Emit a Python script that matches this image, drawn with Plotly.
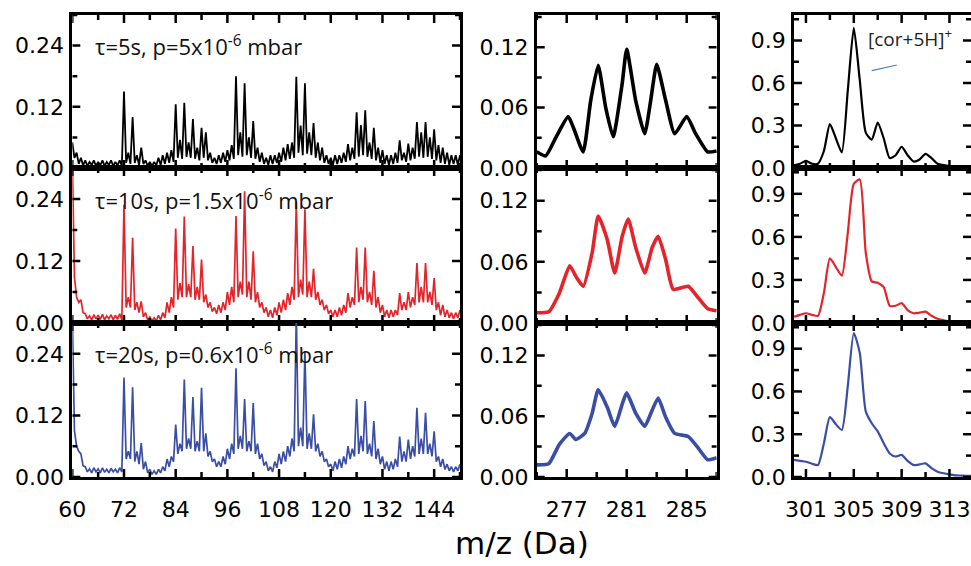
import plotly.graph_objects as go

# ---------------- data ----------------
# left column: integer masses 60..150, peak intensity at each integer and valley intensity at m+0.5
low_mz = list(range(60, 151))

black_peaks = [0.05,0.03,0.02,0.015,0.012,0.015,0.012,0.015,0.012,0.015,0.012,0.015,
               0.15,0.03,0.10,0.025,0.04,0.015,0.012,0.012,0.02,0.025,0.03,0.035,
               0.125,0.055,0.128,0.05,0.096,0.04,0.079,0.07,0.03,0.02,0.025,0.03,
               0.035,0.045,0.18,0.07,0.166,0.06,0.092,0.04,0.03,0.02,0.025,0.025,
               0.03,0.04,0.047,0.05,0.179,0.083,0.166,0.07,0.088,0.05,0.04,0.025,
               0.02,0.025,0.025,0.03,0.047,0.04,0.109,0.084,0.113,0.05,0.079,0.04,
               0.035,0.025,0.025,0.03,0.054,0.03,0.048,0.04,0.09,0.07,0.09,0.06,
               0.076,0.045,0.04,0.03,0.025,0.025,0.025]
black_valleys = [0.02,0.008,0.005,0.004,0.006,0.004,0.005,0.004,0.006,0.004,0.005,0.004,
                 0.01,0.008,0.01,0.006,0.008,0.004,0.004,0.005,0.006,0.008,0.01,0.012,
                 0.02,0.018,0.022,0.02,0.018,0.015,0.02,0.015,0.01,0.008,0.01,0.012,
                 0.015,0.018,0.025,0.022,0.025,0.02,0.018,0.012,0.008,0.006,0.008,0.01,
                 0.012,0.015,0.018,0.02,0.03,0.025,0.028,0.025,0.02,0.015,0.01,0.008,
                 0.006,0.008,0.01,0.012,0.015,0.018,0.022,0.025,0.022,0.018,0.015,0.01,
                 0.008,0.006,0.008,0.01,0.015,0.012,0.015,0.018,0.022,0.02,0.022,0.018,
                 0.015,0.01,0.008,0.006,0.008,0.006]

red_peaks = [0.32,0.05,0.045,0.018,0.014,0.016,0.015,0.017,0.014,0.016,0.015,0.018,
             0.229,0.05,0.165,0.04,0.042,0.02,0.012,0.01,0.015,0.02,0.04,0.05,
             0.183,0.077,0.206,0.075,0.149,0.07,0.123,0.055,0.04,0.03,0.035,0.04,
             0.06,0.07,0.207,0.08,0.255,0.08,0.139,0.06,0.04,0.03,0.025,0.03,
             0.04,0.045,0.058,0.07,0.235,0.084,0.22,0.08,0.105,0.06,0.045,0.035,
             0.025,0.025,0.03,0.035,0.058,0.05,0.146,0.07,0.146,0.06,0.101,0.05,
             0.035,0.025,0.025,0.025,0.058,0.04,0.06,0.05,0.116,0.07,0.116,0.06,
             0.087,0.04,0.035,0.025,0.02,0.02,0.025]
red_valleys = [0.088,0.04,0.02,0.008,0.006,0.008,0.007,0.006,0.008,0.006,0.007,0.006,
               0.03,0.03,0.025,0.02,0.012,0.006,0.004,0.004,0.006,0.01,0.02,0.03,
               0.045,0.05,0.05,0.05,0.045,0.045,0.04,0.03,0.022,0.018,0.02,0.025,
               0.035,0.04,0.05,0.055,0.05,0.045,0.04,0.03,0.02,0.012,0.01,0.015,
               0.02,0.025,0.035,0.045,0.05,0.055,0.05,0.05,0.045,0.035,0.025,0.018,
               0.012,0.012,0.015,0.02,0.03,0.035,0.04,0.045,0.04,0.035,0.03,0.02,
               0.012,0.01,0.012,0.015,0.025,0.025,0.03,0.035,0.04,0.04,0.04,0.035,
               0.025,0.015,0.012,0.01,0.008,0.01]

blue_peaks = [0.32,0.06,0.045,0.02,0.016,0.018,0.016,0.018,0.015,0.017,0.015,0.018,
              0.194,0.05,0.175,0.05,0.066,0.03,0.015,0.012,0.015,0.02,0.035,0.04,
              0.102,0.065,0.19,0.075,0.156,0.07,0.174,0.085,0.05,0.035,0.03,0.04,
              0.055,0.065,0.212,0.08,0.152,0.07,0.144,0.065,0.045,0.03,0.02,0.03,
              0.045,0.05,0.06,0.075,0.32,0.096,0.245,0.085,0.122,0.065,0.05,0.035,
              0.025,0.03,0.035,0.04,0.06,0.055,0.152,0.08,0.148,0.065,0.109,0.055,
              0.04,0.03,0.03,0.035,0.079,0.05,0.073,0.06,0.135,0.075,0.125,0.065,
              0.089,0.04,0.035,0.025,0.02,0.02,0.025]
blue_valleys = [0.09,0.05,0.022,0.01,0.008,0.01,0.008,0.009,0.008,0.01,0.008,0.01,
                0.035,0.035,0.03,0.025,0.015,0.008,0.005,0.005,0.008,0.012,0.02,0.03,
                0.045,0.05,0.055,0.055,0.05,0.05,0.05,0.04,0.03,0.02,0.02,0.025,
                0.035,0.045,0.055,0.055,0.05,0.05,0.045,0.035,0.022,0.012,0.01,0.018,
                0.025,0.03,0.04,0.05,0.06,0.06,0.055,0.055,0.05,0.04,0.03,0.02,
                0.012,0.015,0.018,0.025,0.035,0.04,0.045,0.05,0.045,0.04,0.035,0.025,
                0.015,0.012,0.015,0.02,0.03,0.03,0.035,0.04,0.045,0.045,0.045,0.04,
                0.03,0.02,0.015,0.012,0.01,0.012]

# middle column (m/z 275-287)
mid_black_mz = [275.0,275.6,276.3,277.1,277.5,278.1,278.6,279.1,279.6,280.1,280.7,281.0,281.6,
                282.2,282.6,283.0,283.6,284.2,285.0,285.6,286.4,287.0]
mid_black = [0.016,0.012,0.031,0.051,0.038,0.016,0.067,0.102,0.060,0.031,0.084,0.118,0.067,
             0.034,0.067,0.103,0.067,0.034,0.051,0.034,0.016,0.017]
mid_red_mz = [275.0,275.8,276.5,277.2,277.6,278.1,278.7,279.1,279.7,280.2,280.7,281.1,281.6,
              282.2,282.7,283.1,283.6,284.1,285.1,285.7,286.4,287.0]
mid_red = [0.010,0.011,0.029,0.056,0.046,0.036,0.069,0.105,0.082,0.049,0.085,0.102,0.074,
           0.049,0.074,0.085,0.062,0.033,0.036,0.026,0.014,0.012]
mid_blue_mz = [275.0,275.8,276.5,277.2,277.6,278.2,278.7,279.1,279.7,280.2,280.7,281.0,281.6,
               282.2,282.7,283.1,283.6,284.2,285.1,285.7,286.4,287.0]
mid_blue = [0.012,0.013,0.032,0.043,0.037,0.043,0.063,0.086,0.069,0.050,0.072,0.083,0.063,
            0.050,0.066,0.078,0.059,0.043,0.040,0.030,0.017,0.019]

# right column (m/z 300-315)
hi_mz = [300,300.5,301,301.5,302,302.5,303,303.5,304,304.5,305,305.5,306,306.5,307,307.5,
         308,308.5,309,309.5,310,310.5,311,311.5,312,312.5,313,313.5,314,314.5,315]
hi_black = [0.02,0.03,0.05,0.03,0.03,0.12,0.31,0.21,0.11,0.55,0.99,0.62,0.25,0.2,0.32,0.21,
            0.07,0.09,0.15,0.09,0.046,0.06,0.10,0.07,0.03,0.02,0.015,0.01,0.007,0.005,0.005]
hi_red = [0.044,0.057,0.068,0.057,0.05,0.21,0.45,0.39,0.33,0.63,0.97,1.0,0.49,0.29,0.28,0.25,
          0.12,0.12,0.138,0.09,0.068,0.072,0.079,0.05,0.03,0.02,0.01,0.008,0.006,0.005,0.005]
hi_blue = [0.12,0.113,0.107,0.093,0.084,0.237,0.42,0.37,0.33,0.64,1.01,0.87,0.46,0.377,0.32,0.237,
           0.165,0.144,0.155,0.113,0.084,0.088,0.096,0.062,0.037,0.026,0.019,0.012,0.01,0.008,0.008]

row_labels = ["τ=5s, p=5x10<sup>-6</sup> mbar",
              "τ=10s, p=1.5x10<sup>-6</sup> mbar",
              "τ=20s, p=0.6x10<sup>-6</sup> mbar"]
colors = ["#000000", "#e3242b", "#3a4ea5"]

low_series = [(black_peaks, black_valleys), (red_peaks, red_valleys), (blue_peaks, blue_valleys)]
mid_series = [(mid_black_mz, mid_black), (mid_red_mz, mid_red), (mid_blue_mz, mid_blue)]
hi_series = [hi_black, hi_red, hi_blue]

# ---------------- layout geometry ----------------
W, H = 971, 566
col_px = [(72.3, 460.0), (536.7, 716.7), (794.0, 971.0)]
row_px = [(15.0, 168.0), (168.0, 323.0), (323.0, 477.0)]
# per column: x range, major tick start, minor step; y range, minor step (major = 2 * minor), format
col_axes = [
    dict(xr=[60, 150], xt0=60, xmin=6, yr=[0, 0.30], ymin=0.06, yfmt=".2f"),
    dict(xr=[275, 287], xt0=277, xmin=2, yr=[0, 0.152], ymin=0.03, yfmt=".2f"),
    dict(xr=[300, 314.8], xt0=301, xmin=2, yr=[0, 1.08], ymin=0.15, yfmt=".1f"),
]

MAJ_LEN, MIN_LEN, TICK_W = 8, 5, 2.5

fig = go.Figure()
TICKFONT = dict(family="DejaVu Sans, Arial", size=22, color="black")

def axname(k, kind):
    return f"{kind}axis" if k == 1 else f"{kind}axis{k}"

shapes = []
for r in range(3):
    for c in range(3):
        k = r * 3 + c + 1
        xref = "x" if k == 1 else f"x{k}"
        yref = "y" if k == 1 else f"y{k}"
        col = colors[r]
        if c == 0:
            pk, vl = low_series[r]
            xs, ys = [], []
            for i, m in enumerate(low_mz):
                xs.append(m); ys.append(pk[i])
                if i < len(vl):
                    xs.append(m + 0.5); ys.append(vl[i])
            fig.add_trace(go.Scatter(x=xs, y=ys, mode="lines", xaxis=xref, yaxis=yref,
                                     line=dict(color=col, width=1.7 if r else 1.8),
                                     showlegend=False, hoverinfo="skip"))
        elif c == 1:
            mx, my = mid_series[r]
            fig.add_trace(go.Scatter(x=mx, y=my, mode="lines", xaxis=xref, yaxis=yref,
                                     line=dict(color=col, width=3.6, shape="spline", smoothing=0.5),
                                     showlegend=False, hoverinfo="skip"))
        else:
            fig.add_trace(go.Scatter(x=hi_mz, y=hi_series[r], mode="lines", xaxis=xref, yaxis=yref,
                                     line=dict(color=col, width=2.2, shape="spline", smoothing=0.6),
                                     showlegend=False, hoverinfo="skip"))

        ca = col_axes[c]
        xr, yr = ca["xr"], ca["yr"]
        x0p, x1p = col_px[c]
        y0p, y1p = row_px[r]
        xdom = [x0p / W, min(x1p / W, 1.0)]
        ydom = [1 - y1p / H, 1 - y0p / H]

        common = dict(showline=True, linecolor="black", linewidth=2.6, mirror=True,
                      ticks="", showgrid=False, zeroline=False, tickfont=TICKFONT,
                      automargin=False)
        fig.layout[axname(k, "x")] = dict(
            domain=xdom, range=xr, anchor=yref, tickmode="linear",
            tick0=ca["xt0"], dtick=2 * ca["xmin"],
            showticklabels=(r == 2), ticklabelstandoff=11, **common)
        fig.layout[axname(k, "y")] = dict(
            domain=ydom, range=yr, anchor=xref, tickmode="linear",
            tick0=0, dtick=2 * ca["ymin"], tickformat=ca["yfmt"],
            ticklabelstandoff=1, **common)

        # inward tick marks on all four sides (major and minor)
        i0 = -int((ca["xt0"] - xr[0]) // ca["xmin"])
        i = i0
        while True:
            v = ca["xt0"] + i * ca["xmin"]
            if v > xr[1] + 1e-9:
                break
            if v >= xr[0] - 1e-9:
                L = MAJ_LEN if i % 2 == 0 else MIN_LEN
                for anchor, sgn in ((yr[0], 1), (yr[1], -1)):
                    shapes.append(dict(type="line", xref=xref, yref=yref, x0=v, x1=v,
                                       ysizemode="pixel", yanchor=anchor, y0=0, y1=sgn * L,
                                       line=dict(color="black", width=TICK_W)))
            i += 1
        j = 0
        while True:
            v = j * ca["ymin"]
            if v > yr[1] + 1e-9:
                break
            L = MAJ_LEN if j % 2 == 0 else MIN_LEN
            for anchor, sgn in ((xr[0], 1), (xr[1], -1)):
                shapes.append(dict(type="line", xref=xref, yref=yref, y0=v, y1=v,
                                   xsizemode="pixel", xanchor=anchor, x0=0, x1=sgn * L,
                                   line=dict(color="black", width=TICK_W)))
            j += 1

        if c == 0:
            fig.add_annotation(x=64.7, y=0.24, xref=xref, yref=yref, text=row_labels[r],
                               showarrow=False, xanchor="left", yanchor="middle",
                               font=dict(family="Open Sans, Lato, sans-serif", size=22, color="#111"))

# label in the top right panel and its leader line
fig.add_annotation(x=306.0, y=0.92, xref="x3", yref="y3", text="[cor+5H]<sup>+</sup>",
                   showarrow=False, xanchor="left", yanchor="middle",
                   font=dict(family="Open Sans, Lato, sans-serif", size=19, color="#222"))
shapes.append(dict(type="line", xref="x3", yref="y3", x0=306.5, y0=0.687, x1=308.6, y1=0.727,
                   line=dict(color="#4a7fc8", width=1.2)))

fig.add_annotation(x=522 / W, y=1 - 543 / H, xref="paper", yref="paper", text="m/z (Da)",
                   showarrow=False, xanchor="center", yanchor="middle",
                   font=dict(family="DejaVu Sans, Arial", size=31, color="black"))

fig.update_layout(template="none", width=W, height=H, autosize=False,
                  margin=dict(l=0, r=0, t=0, b=0, pad=0), shapes=shapes,
                  paper_bgcolor="white", plot_bgcolor="white")

fig.write_html("out.html")
